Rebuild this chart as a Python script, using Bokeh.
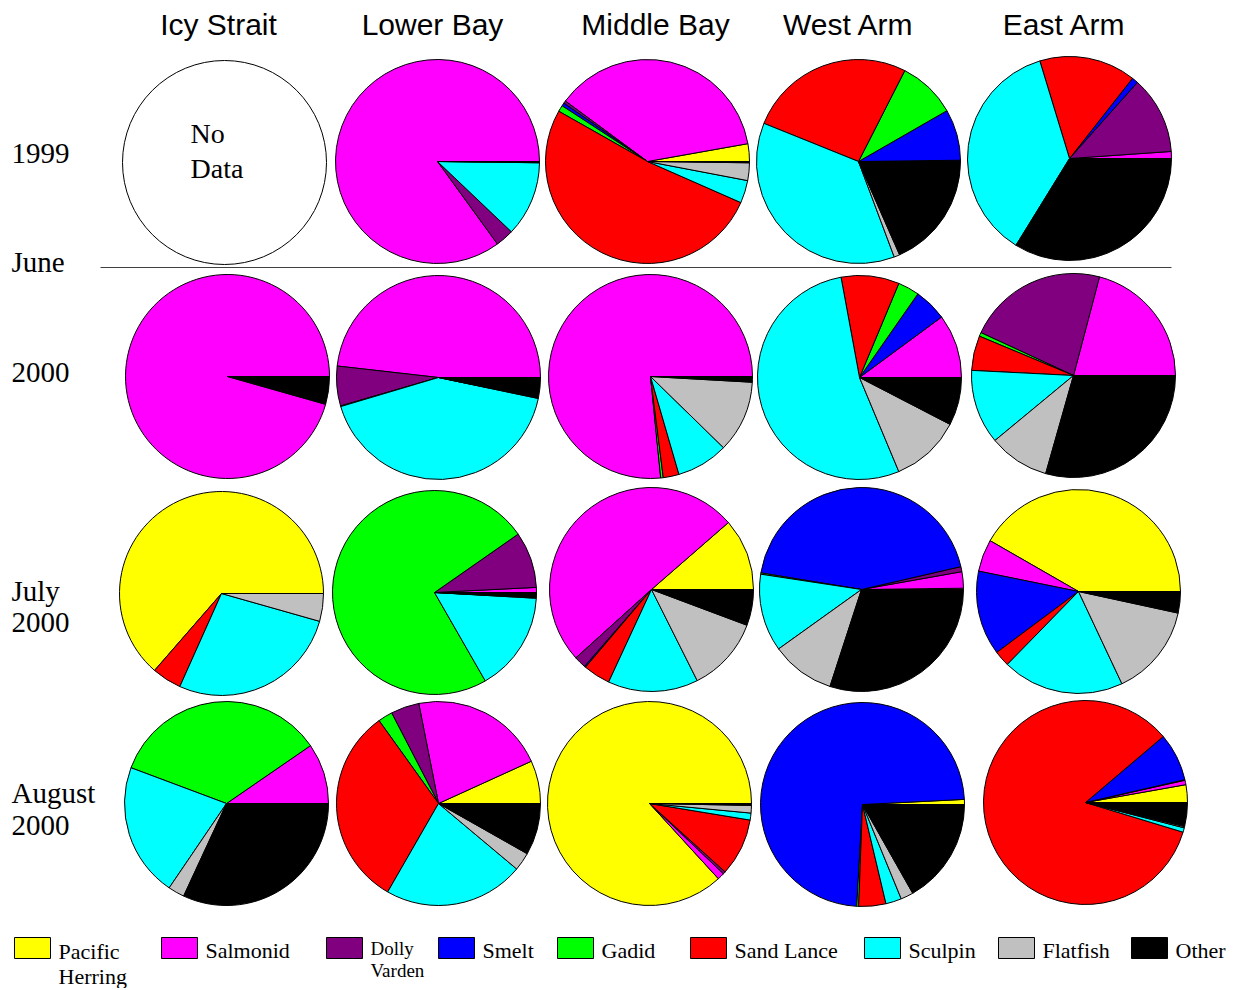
import numpy as np
from bokeh.plotting import figure
from bokeh.models import Range1d, ColumnDataSource
from bokeh.embed import file_html
from bokeh.resources import INLINE
from bokeh.core.properties import value

# ---------------- data ----------------
categories = ["Pacific Herring", "Salmonid", "Dolly Varden", "Smelt", "Gadid",
              "Sand Lance", "Sculpin", "Flatfish", "Other"]
colors = ["#FFFF00", "#FF00FF", "#800080", "#0000FF", "#00FF00",
          "#FF0000", "#00FFFF", "#C0C0C0", "#000000"]
sites = ["Icy Strait", "Lower Bay", "Middle Bay", "West Arm", "East Arm"]

# percent composition, order as in `categories`; None = no data
june_1999 = [None,
             [0, 85.0, 2.9, 0, 0, 0, 11.9, 0.1, 0.1],
             [2.8, 37.1, 0.4, 0.5, 1.0, 51.6, 3.6, 2.8, 0.2],
             [0, 0.1, 0.1, 8.1, 9.2, 26.4, 36.8, 0.9, 18.4],
             [0, 1.1, 12.3, 1.0, 0, 15.3, 36.5, 0, 33.8]]
june_2000 = [[0, 95.6, 0, 0, 0, 0, 0, 0, 4.4],
             [0, 48.2, 6.3, 0, 0.1, 0, 42.1, 0.1, 3.2],
             [0, 76.6, 0, 0, 0.4, 2.5, 8.2, 11.4, 0.9],
             [0, 10.1, 0, 5.2, 3.4, 9.2, 53.4, 11.1, 7.6],
             [0, 20.9, 22.2, 0, 0.6, 5.5, 11.8, 9.6, 29.4]]
july_2000 = [[63.6, 0, 0, 0, 0, 4.7, 27.3, 4.4, 0],
             [0, 0.8, 8.9, 0, 73.6, 0, 15.8, 0.1, 0.8],
             [11.4, 50.3, 1.9, 0.2, 0, 4.3, 14.3, 11.9, 5.7],
             [0.2, 2.6, 0.8, 43.8, 0.2, 0, 12.3, 10.1, 30.0],
             [41.7, 5.1, 0, 13.4, 0, 2.5, 19.3, 14.6, 3.4]]
aug_2000 = [[0, 9.6, 0, 0, 34.7, 0, 21.2, 2.6, 31.9],
            [6.8, 21.3, 4.5, 0, 2.3, 31.8, 22.2, 2.9, 8.2],
            [86.8, 1.1, 0.4, 0, 0, 9.1, 1.1, 1.2, 0.3],
            [0.8, 0, 0, 73.3, 0.3, 4.3, 2.5, 2.0, 16.8],
            [2.8, 0.7, 0.1, 7.6, 0, 84.1, 0.7, 0.2, 3.8]]
rows = [june_1999, june_2000, july_2000, aug_2000]

# ---------------- layout (page pixel positions) ----------------
W, H = 1236, 988
def Y(py):
    return H - py

pie_centers = [
    [(224, 162), (437, 161), (647, 161), (858, 161), (1069, 158)],
    [(227, 376), (438, 377), (650, 376), (859, 377), (1073, 375)],
    [(221, 593), (434, 592), (651, 589), (861, 589), (1078, 591)],
    [(226, 803), (438, 803), (649, 803), (862, 804), (1085, 802)],
]
R = 102

p = figure(width=W, height=H, x_range=Range1d(0, W), y_range=Range1d(0, H),
           output_backend="svg", toolbar_location=None,
           x_axis_location=None, y_axis_location=None, min_border=0)
p.grid.visible = False
p.outline_line_color = None
p.background_fill_color = "white"
p.border_fill_color = "white"

xs, ys, st, en, cs = [], [], [], [], []
nodata = []
for r, row in enumerate(rows):
    for c, vals in enumerate(row):
        cx, cy = pie_centers[r][c]
        if vals is None:
            nodata.append((cx, cy))
            continue
        v = np.array(vals, dtype=float)
        v = v / v.sum()
        cum = np.concatenate([[0], np.cumsum(v)]) * 2 * np.pi
        for k in range(len(v)):
            if v[k] <= 0:
                continue
            xs.append(cx); ys.append(Y(cy))
            st.append(cum[k]); en.append(cum[k + 1]); cs.append(colors[k])

src = ColumnDataSource(dict(x=xs, y=ys, start=st, end=en, color=cs))
p.wedge(x="x", y="y", radius=R, start_angle="start", end_angle="end",
        direction="anticlock", fill_color="color", line_color="black",
        line_width=1, source=src)

# no-data circle
for (cx, cy) in nodata:
    p.circle(x=[cx], y=[Y(cy)], radius=R, fill_color="white", line_color="black", line_width=1)
    p.text(x=[cx - 34, cx - 34], y=[Y(cy - 29), Y(cy + 6)], text=["No", "Data"],
           text_font=value("Liberation Serif"), text_font_size="28px",
           text_align="left", text_baseline="middle", text_color="black")

# column titles
title_x = [218, 432, 655, 848, 1064]
p.text(x=title_x, y=[Y(24)] * 5, text=sites, text_font=value("Liberation Sans"),
       text_font_size="30px", text_align="center", text_baseline="middle", text_color="black")

# row labels
row_label_text = ["1999", "June", "2000", "July", "2000", "August", "2000"]
row_label_y = [153, 261, 372, 590, 622, 792, 825]
p.text(x=[11] * len(row_label_text), y=[Y(v) for v in row_label_y], text=row_label_text,
       text_font=value("Liberation Serif"), text_font_size="29px",
       text_align="left", text_baseline="middle", text_color="black")

# separator line between 1999 and 2000
p.segment(x0=[100], y0=[Y(267)], x1=[1171], y1=[Y(267)], line_color="#404040", line_width=1)

# legend
leg_left = [14, 161, 326, 438, 557, 690, 864, 998, 1131]
p.quad(left=leg_left, right=[v + 36 for v in leg_left], top=[Y(937)] * 9, bottom=[Y(958)] * 9,
       fill_color=colors, line_color="black", line_width=1)
leg_lines = [["Pacific", "Herring"], ["Salmonid"], ["Dolly", "Varden"], ["Smelt"], ["Gadid"],
             ["Sand Lance"], ["Sculpin"], ["Flatfish"], ["Other"]]
for i, lines in enumerate(leg_lines):
    tx = leg_left[i] + 44
    if i == 2:
        p.text(x=[tx, tx], y=[Y(948), Y(970)], text=lines, text_font=value("Liberation Serif"),
               text_font_size="19px", text_align="left", text_baseline="middle", text_color="black")
    elif len(lines) == 2:
        p.text(x=[tx, tx], y=[Y(951), Y(976)], text=lines, text_font=value("Liberation Serif"),
               text_font_size="22px", text_align="left", text_baseline="middle", text_color="black")
    else:
        p.text(x=[tx], y=[Y(950)], text=lines, text_font=value("Liberation Serif"),
               text_font_size="22px", text_align="left", text_baseline="middle", text_color="black")

open("out.html", "w").write(file_html(p, INLINE))
